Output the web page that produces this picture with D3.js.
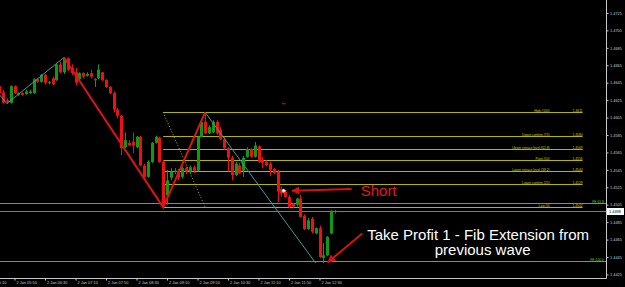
<!DOCTYPE html>
<html><head><meta charset="utf-8">
<script src="https://cdn.jsdelivr.net/npm/d3@7"></script>
<style>html,body{margin:0;padding:0;background:#000;overflow:hidden}svg{display:block}</style>
</head><body><svg id="c" width="625" height="287"></svg>
<script>
// ---------- DATA ----------
const barTimes = ["05:30","05:35","05:40","05:45","05:50","05:55","06:00","06:05","06:10","06:15",
"06:20","06:25","06:30","06:35","06:40","06:45","06:50","06:55","07:00","07:05",
"07:10","07:15","07:20","07:25","07:30","07:35","07:40","07:45","07:50","07:55",
"08:00","08:05","08:10","08:15","08:20","08:25","08:30","08:35","08:40","08:45",
"08:50","08:55","09:00","09:05","09:10","09:15","09:20","09:25","09:30","09:35",
"09:40","09:45","09:50","09:55","10:00","10:05","10:10","10:15","10:20","10:25",
"10:30","10:35","10:40","10:45","10:50","10:55","11:00","11:05","11:10","11:15",
"11:20","11:25","11:30","11:35","11:40","11:45","11:50","11:55","12:00","12:05",
"12:10","12:15","12:20","12:25","12:30","12:35","12:40","12:45","12:50"];
const opens = [1.4641,1.4634,1.4625,1.4622,1.4641,1.4631,1.4633,1.4632,1.4633,1.4633,
1.4649,1.4646,1.4654,1.4645,1.4650,1.4648,1.4666,1.4657,1.4673,1.4662,
1.4657,1.4649,1.4656,1.4653,1.4656,1.4648,1.4650,1.4657,1.4648,1.4640,
1.4633,1.4614,1.4607,1.4571,1.4576,1.4577,1.4571,1.4583,1.4550,1.4537,
1.4554,1.4576,1.4582,1.4554,1.4516,1.4536,1.4543,1.4544,1.4537,1.4547,
1.4543,1.4548,1.4544,1.4583,1.4600,1.4587,1.4588,1.4600,1.4591,1.4580,
1.4570,1.4559,1.4539,1.4550,1.4544,1.4560,1.4569,1.4560,1.4572,1.4556,
1.4554,1.4552,1.4546,1.4543,1.4523,1.4520,1.4514,1.4506,1.4505,1.4512,
1.4492,1.4477,1.4489,1.4472,1.4478,1.4444,1.4447,1.4472,1.4497];
const highs = [1.4643,1.4637,1.4627,1.4642,1.4642,1.4634,1.4634,1.4637,1.4637,1.4650,
1.4650,1.4655,1.4655,1.4647,1.4652,1.4668,1.4669,1.4674,1.4674,1.4666,
1.4662,1.4657,1.4657,1.4657,1.4660,1.4650,1.4666,1.4657,1.4649,1.4641,
1.4635,1.4616,1.4608,1.4588,1.4579,1.4588,1.4584,1.4584,1.4552,1.4556,
1.4577,1.4584,1.4583,1.4556,1.4545,1.4547,1.4547,1.4546,1.4549,1.4549,
1.4550,1.4550,1.4584,1.4604,1.4611,1.4596,1.4602,1.4602,1.4594,1.4583,
1.4571,1.4561,1.4554,1.4553,1.4561,1.4571,1.4570,1.4577,1.4573,1.4560,
1.4556,1.4554,1.4547,1.4545,1.4526,1.4522,1.4516,1.4507,1.4513,1.4516,
1.4494,1.4490,1.4491,1.4479,1.4481,1.4461,1.4469,1.4499,1.4499];
const lows = [1.4631,1.4621,1.4621,1.4621,1.4632,1.4630,1.4630,1.4631,1.4632,1.4632,
1.4645,1.4645,1.4643,1.4643,1.4642,1.4647,1.4656,1.4655,1.4658,1.4654,
1.4642,1.4648,1.4650,1.4652,1.4650,1.4640,1.4649,1.4647,1.4639,1.4632,
1.4611,1.4604,1.4562,1.4570,1.4572,1.4564,1.4570,1.4549,1.4536,1.4536,
1.4553,1.4575,1.4553,1.4502,1.4505,1.4533,1.4540,1.4533,1.4535,1.4540,
1.4540,1.4541,1.4543,1.4582,1.4586,1.4586,1.4587,1.4585,1.4579,1.4568,
1.4543,1.4533,1.4538,1.4540,1.4537,1.4559,1.4559,1.4559,1.4553,1.4547,
1.4549,1.4538,1.4540,1.4508,1.4514,1.4513,1.4501,1.4501,1.4503,1.4490,
1.4476,1.4476,1.4472,1.4471,1.4444,1.4438,1.4446,1.4471,1.4495];
const closes = [1.4633,1.4622,1.4623,1.4641,1.4633,1.4633,1.4631,1.4635,1.4635,1.4649,
1.4646,1.4654,1.4645,1.4646,1.4643,1.4666,1.4657,1.4673,1.4660,1.4656,
1.4645,1.4656,1.4652,1.4655,1.4652,1.4649,1.4660,1.4648,1.4640,1.4633,
1.4614,1.4607,1.4570,1.4579,1.4573,1.4573,1.4583,1.4550,1.4537,1.4554,
1.4576,1.4583,1.4554,1.4505,1.4533,1.4543,1.4544,1.4536,1.4547,1.4543,
1.4548,1.4544,1.4583,1.4600,1.4587,1.4594,1.4600,1.4587,1.4580,1.4570,
1.4559,1.4539,1.4552,1.4541,1.4559,1.4569,1.4560,1.4573,1.4554,1.4553,
1.4550,1.4545,1.4541,1.4520,1.4518,1.4514,1.4502,1.4503,1.4512,1.4491,
1.4477,1.4487,1.4474,1.4478,1.4445,1.4447,1.4468,1.4497,1.4498];

const xTickTimes = ["05:10","05:50","06:30","07:10","07:50","08:30","09:10","09:50","10:30","11:10","11:50","12:30"];
const xTickLabels = ["2 Jan 05:10","2 Jan 05:50","2 Jan 06:30","2 Jan 07:10","2 Jan 07:50","2 Jan 08:30","2 Jan 09:10","2 Jan 09:50","2 Jan 10:30","2 Jan 11:10","2 Jan 11:50","2 Jan 12:30"];
const yTicks = [1.4425,1.4445,1.4465,1.4485,1.4505,1.4525,1.4545,1.4565,1.4585,1.4605,1.4625,1.4645,1.4665,1.4685,1.4705,1.4725];
const priceDomain = [1.44209, 1.47399];
const timeDomain = ["05:30:59", "18:45:42"];

const zigzagUp = [["05:20",1.4642],["05:40",1.4621],["06:55",1.4674]];
const waveLines = [["06:55",1.4674],["09:05",1.4502],["10:00",1.4611]];
const zigzagDown = [["10:00",1.4611],["12:25",1.4438]];
const fibDiagonal = [["09:05",1.4611],["10:00",1.4502]];
const fibNames = ["High (100)","Upper confirm (75)","Upper retrace level (61.8)","Pivot (50)","Lower retrace level (38.2)","Lower confirm (25)","Low (0)"];
const fibPrices = [1.4611,1.4584,1.4569,1.4556,1.4544,1.4529,1.4502];
const fibSpan = ["09:05","18:15"];
const feNames = ["FE 61.8","FE 100.0"];
const fePrices = [1.4507,1.4440];
const currentPrice = 1.4498;
const shortArrow = [["13:12",1.4523],["11:54",1.4521]];
const shortLabel = {text:"Short", time:"13:24", price:1.4515};
const tpArrow = [["13:26",1.4472],["12:41",1.4439]];
const tpLines = ["Take Profit 1 - Fib Extension from","previous wave"];
const tpAnchors = [["15:58",1.44645],["16:04",1.4447]];
const entryMark = ["11:43",1.4521];
const stopMark = ["11:43",1.4621];

// ---------- CHART ----------
const W = 625, H = 287, plotR = 606, plotB = 278;
const toMin = s => { const p = s.split(":").map(Number); return p[0]*60 + p[1] + (p[2]||0)/60; };
const x = d3.scaleLinear().domain(timeDomain.map(toMin)).range([0, plotR]);
const y = d3.scaleLinear().domain(priceDomain).range([plotB, 0]);
const svg = d3.select("#c");
svg.append("rect").attr("width", W).attr("height", H).attr("fill", "#000");
const defs = svg.append("defs");
defs.append("clipPath").attr("id","clip").append("rect").attr("x",0).attr("y",0).attr("width",plotR).attr("height",plotB);
const mk = (id,col) => defs.append("marker").attr("id",id).attr("viewBox","0 0 10 10").attr("refX",9).attr("refY",5)
  .attr("markerWidth",4.5).attr("markerHeight",4).attr("orient","auto").attr("markerUnits","strokeWidth")
  .append("path").attr("d","M0,0L10,5L0,10z").attr("fill",col);
mk("arr","#d81010");

const g = svg.append("g").attr("clip-path","url(#clip)");
const line = d3.line().x(d => x(toMin(d[0]))).y(d => y(d[1]));

// current price line
g.append("line").attr("x1",0).attr("x2",plotR).attr("y1",Math.round(y(currentPrice))+0.5).attr("y2",Math.round(y(currentPrice))+0.5)
  .attr("stroke","#6f7b88").attr("stroke-width",1);

// FE lines
fePrices.forEach((p,i) => {
  const yy = Math.round(y(p))+0.5;
  g.append("line").attr("x1",0).attr("x2",plotR).attr("y1",yy).attr("y2",yy).attr("stroke","#5db314").attr("stroke-width",1);
  svg.append("text").attr("x",plotR-2).attr("y",yy-1).attr("text-anchor","end").attr("fill","#6cc020")
    .attr("font-family","Liberation Sans, Arial, sans-serif").attr("font-size",3.4).text(feNames[i]);
});

// fib levels
const fx1 = x(toMin(fibSpan[0])), fx2 = x(toMin(fibSpan[1]));
fibPrices.forEach((p,i) => {
  const yy = Math.round(y(p))+0.5;
  g.append("line").attr("x1",fx1).attr("x2",fx2).attr("y1",yy).attr("y2",yy).attr("stroke","#b5b500").attr("stroke-width",1);
  g.append("text").attr("x",fx2-33).attr("y",yy-1).attr("text-anchor","end").attr("fill","#c8c800")
    .attr("font-family","Liberation Sans, Arial, sans-serif").attr("font-size",3.3).text(fibNames[i]);
  g.append("text").attr("x",fx2).attr("y",yy-1).attr("text-anchor","end").attr("fill","#c8c800")
    .attr("font-family","Liberation Sans, Arial, sans-serif").attr("font-size",3.3).text(p.toFixed(4));
});
g.append("path").attr("d",line(fibDiagonal)).attr("fill","none").attr("stroke","#b5b500").attr("stroke-width",1).attr("stroke-dasharray","1,2");

// candles
const bars = barTimes.map((t,i) => ({t, o:opens[i], h:highs[i], l:lows[i], c:closes[i]}));
const cg = g.append("g");
bars.forEach(b => {
  const cx = Math.round(x(toMin(b.t)));
  const up = b.c >= b.o;
  const col = up ? "#109a10" : "#f01010";
  cg.append("line").attr("x1",cx+0.5).attr("x2",cx+0.5).attr("y1",y(b.h)).attr("y2",y(b.l)).attr("stroke",col).attr("stroke-width",1);
  const top = y(Math.max(b.o,b.c)), bot = y(Math.min(b.o,b.c));
  cg.append("rect").attr("x",cx-1).attr("width",3).attr("y",top).attr("height",Math.max(1,bot-top)).attr("fill",col);
});

// zigzag and wave lines
g.append("path").attr("d",line(zigzagUp)).attr("fill","none").attr("stroke","#3a9e9e").attr("stroke-width",1);
g.append("path").attr("d",line(zigzagDown)).attr("fill","none").attr("stroke","#3a9e9e").attr("stroke-width",1);
g.append("path").attr("d",line(waveLines)).attr("fill","none").attr("stroke","#dd1414").attr("stroke-width",2).attr("stroke-linejoin","miter");

// markers
g.append("line").attr("x1",x(toMin(stopMark[0]))-2).attr("x2",x(toMin(stopMark[0]))+2).attr("y1",y(stopMark[1])).attr("y2",y(stopMark[1]))
  .attr("stroke","#9a1010").attr("stroke-width",1.5);
const ex = x(toMin(entryMark[0])), ey = y(entryMark[1]);
g.append("circle").attr("cx",ex).attr("cy",ey).attr("r",1.8).attr("fill","#f4a0a0");
g.append("path").attr("d",`M${ex-2},${ey}H${ex+2}M${ex},${ey-2}V${ey+2}`).attr("stroke","#ffffff").attr("stroke-width",0.8);

// annotations
g.append("path").attr("d",line(shortArrow)).attr("fill","none").attr("stroke","#d81010").attr("stroke-width",2).attr("marker-end","url(#arr)");
g.append("path").attr("d",line(tpArrow)).attr("fill","none").attr("stroke","#d81010").attr("stroke-width",2).attr("marker-end","url(#arr)");
g.append("text").attr("x",x(toMin(shortLabel.time))).attr("y",y(shortLabel.price)).attr("fill","#e01c1c")
  .attr("font-family","Liberation Sans, Arial, sans-serif").attr("font-size",15).text(shortLabel.text);
tpLines.forEach((t,i) => {
  g.append("text").attr("x",x(toMin(tpAnchors[i][0]))).attr("y",y(tpAnchors[i][1])).attr("text-anchor","middle").attr("fill","#ffffff")
    .attr("font-family","Liberation Sans, Arial, sans-serif").attr("font-size",15).text(t);
});

// axes
const axCol = "#c8c8c8";
svg.append("line").attr("x1",plotR+0.5).attr("x2",plotR+0.5).attr("y1",0).attr("y2",plotB+0.5).attr("stroke",axCol).attr("stroke-width",1);
svg.append("line").attr("x1",0).attr("x2",plotR+0.5).attr("y1",plotB+0.5).attr("y2",plotB+0.5).attr("stroke",axCol).attr("stroke-width",1);
const yAx = svg.append("g").attr("transform",`translate(${plotR+0.5},0)`)
  .call(d3.axisRight(y).tickValues(yTicks).tickFormat(d3.format(".4f")).tickSize(2).tickPadding(1.5));
yAx.select(".domain").remove();
yAx.selectAll("line").attr("stroke",axCol);
yAx.selectAll("text").attr("fill",axCol).attr("font-size",3.9).attr("font-family","Liberation Sans, Arial, sans-serif");
const xAx = svg.append("g").attr("transform",`translate(0,${plotB+0.5})`)
  .call(d3.axisBottom(x).tickValues(xTickTimes.map(toMin)).tickFormat((d,i) => xTickLabels[i]).tickSize(2).tickPadding(1));
xAx.select(".domain").remove();
xAx.selectAll("line").attr("stroke",axCol);
xAx.selectAll("text").attr("fill",axCol).attr("font-size",3.9).attr("font-family","Liberation Sans, Arial, sans-serif")
  .attr("text-anchor","start").attr("dx",1.5);

// current price box
const cy = y(currentPrice);
svg.append("rect").attr("x",plotR+1).attr("y",Math.round(cy)-3).attr("width",17).attr("height",7).attr("fill","#ffffff");
svg.append("text").attr("x",plotR+3).attr("y",Math.round(cy)+2).attr("fill","#000").attr("font-size",3.9)
  .attr("font-family","Liberation Sans, Arial, sans-serif").text(currentPrice.toFixed(4));
</script></body></html>
